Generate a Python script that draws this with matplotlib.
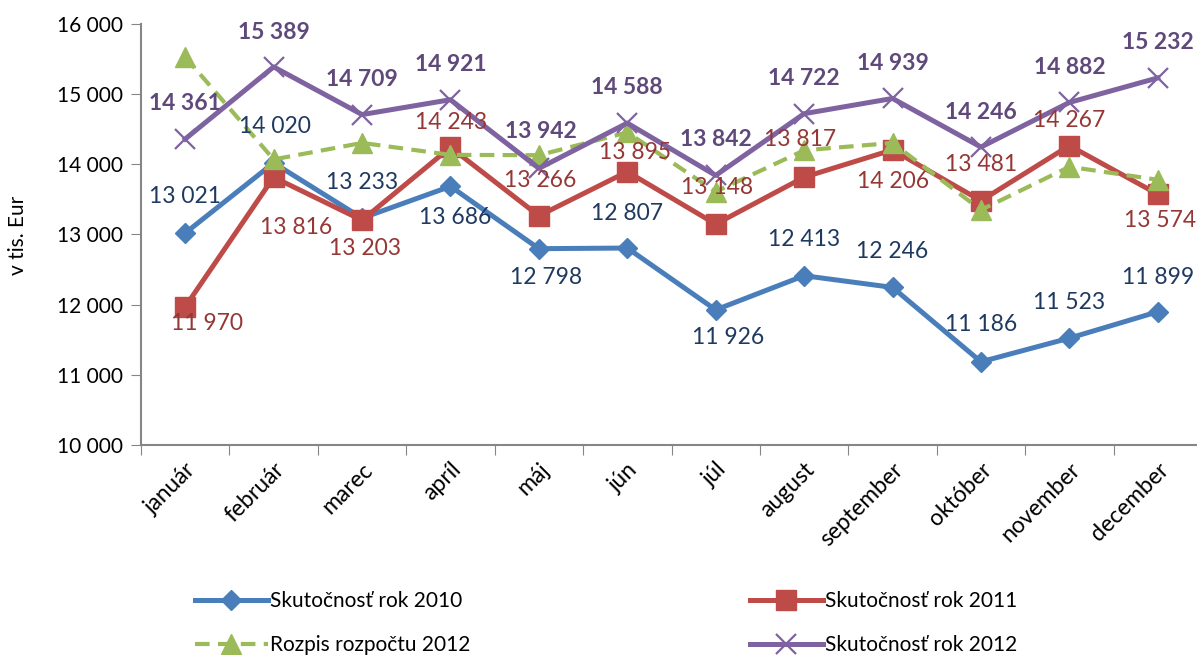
import matplotlib
matplotlib.use("Agg")
import matplotlib.pyplot as plt
from matplotlib.ticker import FuncFormatter, FixedLocator

plt.rcParams['font.family'] = ['Lato', 'DejaVu Sans']

months = ["január", "február", "marec", "apríl", "máj", "jún", "júl",
          "august", "september", "október", "november", "december"]
skut_2010 = [13021, 14020, 13233, 13686, 12798, 12807, 11926, 12413, 12246, 11186, 11523, 11899]
skut_2011 = [11970, 13816, 13203, 14243, 13266, 13895, 13148, 13817, 14206, 13481, 14267, 13574]
rozpis_2012 = [15530, 14070, 14305, 14135, 14130, 14455, 13610, 14200, 14305, 13350, 13965, 13780]
skut_2012 = [14361, 15389, 14709, 14921, 13942, 14588, 13842, 14722, 14939, 14246, 14882, 15232]
series_names = ["Skutočnosť rok 2010", "Skutočnosť rok 2011", "Rozpis rozpočtu 2012", "Skutočnosť rok 2012"]

# label offsets in pixels (dx, dy), positive dy = up
off_2010 = [(0, 37), (1, 36), (0, 36), (5, -31), (7, -29), (0, 35), (12, -28), (0, 36), (0, 36), (0, 37), (0, 36), (0, 34)]
off_2011 = [(22, -17), (22, -50), (3, -28), (1, 25), (1, 35), (8, 19), (1, 37), (-4, 38), (1, -32), (0, 36), (0, 25), (2, -26)]
off_2012 = [(0, 36), (0, 34), (0, 35), (0, 35), (2, 37), (0, 36), (0, 36), (0, 35), (0, 35), (0, 35), (0, 35), (0, 35)]

W, H = 1197, 655
fig = plt.figure(figsize=(W / 100, H / 100), dpi=100)
ax = fig.add_axes([141 / W, 1 - 445 / H, 1061 / W, 421 / H])

x = list(range(len(months)))
fmt = lambda v: f"{int(round(v)):,}".replace(",", " ")

c_blue, c_red, c_green, c_purple = "#4A7EBB", "#BE4B48", "#9BBB59", "#7F63A1"
t_blue, t_red, t_purple = "#1F3A60", "#953735", "#5F497A"

l1, = ax.plot(x, skut_2010, color=c_blue, lw=3.6, marker="D", ms=10, mfc=c_blue, mec=c_blue, zorder=3)
l2, = ax.plot(x, skut_2011, color=c_red, lw=3.6, marker="s", ms=14, mfc=c_red, mec=c_red, zorder=3)
l3, = ax.plot(x, rozpis_2012, color=c_green, lw=3.0, ls=(0, (3.5, 2.0)), marker="^", ms=14,
              mfc=c_green, mec=c_green, zorder=4)
l4, = ax.plot(x, skut_2012, color=c_purple, lw=3.6, marker="x", ms=14, mew=1.6, mec=c_purple, zorder=5)

for vals, offs, col, wt in [(skut_2010, off_2010, t_blue, "normal"),
                            (skut_2011, off_2011, t_red, "normal"),
                            (skut_2012, off_2012, t_purple, "bold")]:
    for xi, v, (dx, dy) in zip(x, vals, offs):
        ax.annotate(fmt(v), (xi, v), xytext=(dx, dy), textcoords="offset pixels",
                    ha="center", va="center", fontsize=16.5, color=col, fontweight=wt, zorder=6)

ax.set_xlim(-0.5, 11.5)
ax.set_ylim(10000, 16000)
ax.set_yticks(range(10000, 16001, 1000))
ax.yaxis.set_major_formatter(FuncFormatter(lambda v, p: fmt(v)))
ax.xaxis.set_major_locator(FixedLocator([i - 0.5 for i in range(13)]))
ax.xaxis.set_major_formatter(FuncFormatter(lambda v, p: ""))
ax.xaxis.set_minor_locator(FixedLocator(x))
ax.set_xticklabels(months, minor=True, rotation=45, ha="right", rotation_mode="anchor", fontsize=16.5)
ax.tick_params(axis="x", which="minor", length=0, pad=10)
ax.tick_params(axis="x", which="major", length=7, color="#868686", direction="out")
ax.tick_params(axis="y", length=7, color="#868686", labelsize=15, pad=6)
for s in ["top", "right"]:
    ax.spines[s].set_visible(False)
for s in ["left", "bottom"]:
    ax.spines[s].set_color("#868686")
    ax.spines[s].set_linewidth(1.5)

fig.text(18 / W, 1 - 235 / H, "v tis. Eur", rotation=90, ha="center", va="center", fontsize=15)

leg_kw = dict(frameon=False, fontsize=15, handlelength=3.5, handletextpad=0.1,
              labelspacing=1.15, numpoints=1, borderaxespad=0, borderpad=0)
fig.legend([l1, l3], [series_names[0], series_names[2]], loc="upper left",
           bbox_to_anchor=(195 / W, 1 - 591 / H), **leg_kw)
fig.legend([l2, l4], [series_names[1], series_names[3]], loc="upper left",
           bbox_to_anchor=(750 / W, 1 - 591 / H), **leg_kw)

fig.savefig("out.png", dpi=100)
